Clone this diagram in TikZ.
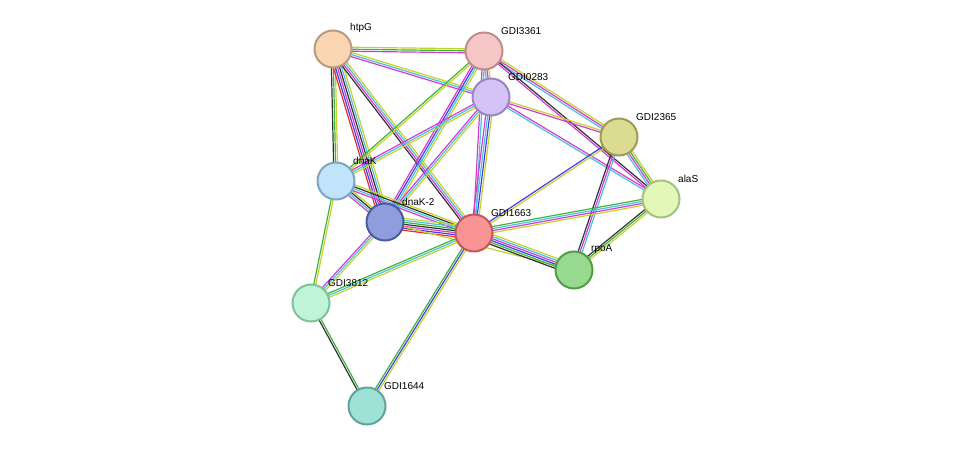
\documentclass[tikz,border=0pt]{standalone}
\usepackage{fontspec}
\setmainfont{Liberation Sans}
\usetikzlibrary{calc}
\definecolor{qg}{HTML}{3DB53D}\definecolor{qy}{HTML}{C6D12B}\definecolor{qm}{HTML}{D43BD4}
\definecolor{qc}{HTML}{4BC1DF}\definecolor{qb}{HTML}{3F3FEE}\definecolor{qk}{HTML}{333333}
\definecolor{qr}{HTML}{EE2B2B}
\newcommand\tgt{}
\newcommand\edge[3]{\foreach[count=\i] \c in {#3}{%
 \pgfmathsetmacro\o{(\i-(#2+1)/2)*2}%
 \draw[line width=1.2pt,color=\c] ($(#1)!\o pt!90:(\tgt)$) -- ($(\tgt)!\o pt!-90:(#1)$);}}
\newcommand\E[4]{\renewcommand\tgt{#2}\edge{#1}{#3}{#4}}
\tikzset{prot/.style={circle,minimum size=37pt,line width=2pt,inner sep=0pt},
 lab/.style={font=\fontsize{10pt}{11pt}\selectfont,anchor=south west,inner sep=1pt}}
\begin{document}
\begin{tikzpicture}[x=1pt,y=-1pt]
\useasboundingbox[fill=white] (0,0) rectangle (976,452);
\coordinate (htpG) at (333,49);\coordinate (G3361) at (484,51);\coordinate (G0283) at (491,97);
\coordinate (G2365) at (619,137);\coordinate (alaS) at (661,199);\coordinate (dnaK) at (336,181);
\coordinate (dnaK2) at (385,222);\coordinate (G1663) at (474,233);\coordinate (rpoA) at (574,270);
\coordinate (G3812) at (311,303);\coordinate (G1644) at (367,406);
\E{htpG}{G3361}{3}{qm,qg,qy}
\E{htpG}{G0283}{3}{qm,qc,qy}
\E{htpG}{dnaK}{3}{qk,qg,qy}
\E{htpG}{dnaK2}{6}{qr,qb,qm,qk,qc,qy}
\E{htpG}{G1663}{4}{qk,qm,qc,qy}
\E{G3361}{G0283}{3}{qc,qm,qy}
\E{G3361}{G2365}{3}{qc,qm,qy}
\E{G3361}{alaS}{2}{qm,qk}
\E{G3361}{dnaK}{2}{qg,qy}
\E{G3361}{dnaK2}{4}{qm,qb,qc,qy}
\E{G3361}{G1663}{2}{qm,qc}
\E{G0283}{dnaK}{3}{qm,qc,qy}
\E{G0283}{dnaK2}{3}{qm,qc,qy}
\E{G0283}{G1663}{4}{qm,qc,qb,qy}
\E{G0283}{G2365}{2}{qm,qy}
\E{G0283}{alaS}{2}{qc,qm}
\E{G2365}{alaS}{4}{qc,qm,qg,qy}
\E{G2365}{G1663}{2}{qb,qy}
\E{G2365}{rpoA}{3}{qk,qm,qc}
\E{alaS}{G1663}{4}{qg,qc,qm,qy}
\E{alaS}{rpoA}{3}{qk,qg,qy}
\E{dnaK}{dnaK2}{4}{qm,qc,qk,qy}
\E{dnaK}{G1663}{4}{qm,qc,qk,qy}
\E{dnaK}{G3812}{2}{qg,qy}
\E{dnaK2}{G1663}{7}{qr,qb,qm,qk,qg,qc,qy}
\E{dnaK2}{G3812}{3}{qm,qc,qy}
\E{dnaK2}{rpoA}{1}{qy}
\E{G1663}{rpoA}{6}{qk,qg,qb,qm,qc,qy}
\E{G1663}{G3812}{3}{qg,qc,qy}
\E{G1663}{G1644}{3}{qg,qb,qy}
\E{G3812}{G1644}{2}{qk,qg}
\foreach \n/\f/\d/\t in {htpG/F9D5B1/B89A80/htpG, G3361/F5C6C6/C08B8B/GDI3361, G0283/D5C3F7/9C84C8/GDI0283,
 G2365/DCDB92/9D9B55/GDI2365, alaS/E3F8B8/A6C17D/alaS, dnaK/BFE4FB/7FA6C0/dnaK, dnaK2/8E9DDB/4C5BA0/dnaK-2,
 G1663/F99494/C45858/GDI1663, rpoA/97D98E/4E9F46/rpoA, G3812/BFF5D6/7FC19B/GDI3812, G1644/9EE1D7/5EA599/GDI1644}{
 \definecolor{ff}{HTML}{\f}\definecolor{dd}{HTML}{\d}
 \node[prot,fill=ff,draw=dd] (n\n) at (\n) {};
 \node[lab] (l\n) at ($(\n)+(16,-15)$) {\t};}
\end{tikzpicture}
\end{document}
